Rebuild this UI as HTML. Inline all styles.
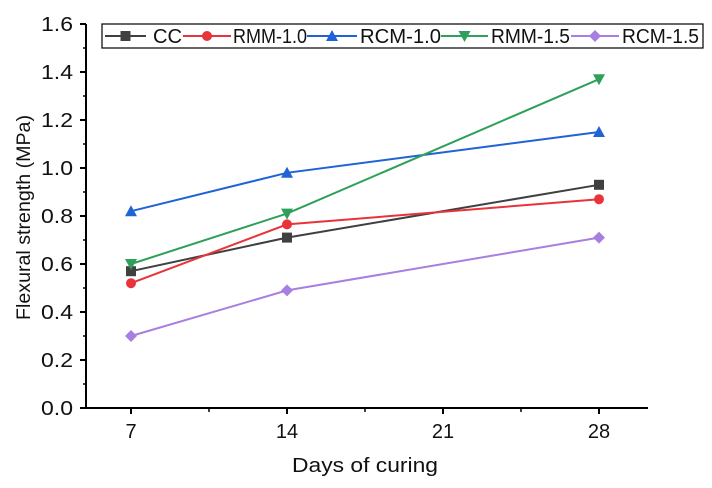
<!DOCTYPE html>
<html><head><meta charset="utf-8"><style>
body{margin:0;background:#fff;}
svg text{font-family:"Liberation Sans",Arial,sans-serif;fill:#111;}
</style></head><body>
<svg id="c" width="712" height="483" viewBox="0 0 712 483"></svg>
<script>
const days=[7,14,28];
const seriesNames=["CC","RMM-1.0","RCM-1.0","RMM-1.5","RCM-1.5"];
const ccVals=[0.57,0.71,0.93];
const rmm10Vals=[0.52,0.765,0.87];
const rcm10Vals=[0.82,0.98,1.15];
const rmm15Vals=[0.60,0.81,1.37];
const rcm15Vals=[0.30,0.49,0.71];
const yTicks=["0.0","0.2","0.4","0.6","0.8","1.0","1.2","1.4","1.6"];
const xTicks=[7,14,21,28];
const colors=["#404040","#e8333a","#1f63d6","#2ea05a","#a77fe0"];
const markers=["square","circle","tri","tridown","diamond"];
const allVals=[ccVals,rmm10Vals,rcm10Vals,rmm15Vals,rcm15Vals];
const NS="http://www.w3.org/2000/svg";
const svg=document.getElementById('c');
const X=d=>131+(d-7)*(468/21);
const Y=v=>408-v*240;
function mk(t,a,p){const e=document.createElementNS(NS,t);for(const k in a)e.setAttribute(k,a[k]);(p||svg).appendChild(e);return e;}
let ax=mk('line',{x1:86,y1:24,x2:86,y2:409,stroke:'#000','stroke-width':2});

let bx=mk('line',{x1:85,y1:408,x2:648,y2:408,stroke:'#000','stroke-width':2});

yTicks.forEach((t,i)=>{const v=parseFloat(t);const y=Y(v);
mk('line',{x1:80,y1:y,x2:86,y2:y,stroke:'#000','stroke-width':2});
if(i<yTicks.length-1)mk('line',{x1:83,y1:Y(v+0.1),x2:86,y2:Y(v+0.1),stroke:'#000','stroke-width':1.5});
const tx=mk('text',{x:73,y:y+7,'text-anchor':'end','font-size':20,textLength:32,lengthAdjust:'spacingAndGlyphs'});tx.textContent=t;
});
xTicks.forEach((d,i)=>{const x=X(d);
mk('line',{x1:x,y1:408,x2:x,y2:414,stroke:'#000','stroke-width':2});
if(i<xTicks.length-1)mk('line',{x1:X(d+3.5),y1:408,x2:X(d+3.5),y2:412,stroke:'#000','stroke-width':1.5});
const tx=mk('text',{x:x,y:438,'text-anchor':'middle','font-size':20});tx.textContent=d;
});
let xt=mk('text',{x:292,y:472,'font-size':20,textLength:146,lengthAdjust:'spacingAndGlyphs'});xt.textContent='Days of curing';

let yt=mk('text',{x:0,y:0,'font-size':19,textLength:205,lengthAdjust:'spacingAndGlyphs',transform:'translate(30,320) rotate(-90)'});yt.textContent='Flexural strength (MPa)';

function marker(type,x,y,c,p){
if(type==='square')return mk('rect',{x:x-5,y:y-5,width:10,height:10,fill:c},p);
if(type==='circle')return mk('circle',{cx:x,cy:y,r:5,fill:c},p);
if(type==='tri')return mk('polygon',{points:`${x},${y-6} ${x+6},${y+5} ${x-6},${y+5}`,fill:c},p);
if(type==='tridown')return mk('polygon',{points:`${x},${y+6} ${x+6},${y-5} ${x-6},${y-5}`,fill:c},p);
return mk('polygon',{points:`${x},${y-6} ${x+6},${y} ${x},${y+6} ${x-6},${y}`,fill:c},p);}
allVals.forEach((vals,s)=>{
const g=mk('g',{});
const pl=mk('polyline',{points:vals.map((v,i)=>X(days[i])+','+Y(v)).join(' '),fill:'none',stroke:colors[s],'stroke-width':2},g);

vals.forEach((v,i)=>{const m=marker(markers[s],X(days[i]),Y(v),colors[s],g);
});
});
const lg=mk('g',{});
mk('rect',{x:102,y:24,width:601,height:24,fill:'#fff',stroke:'#000','stroke-width':1.2},lg);
const lineX=[[105,146],[183,231],[307,357],[441,488],[571,619]];
const textX=[[153,29],[233,74],[360,81],[491,79],[622,77]];
seriesNames.forEach((n,s)=>{const [a,b]=lineX[s];
const e=mk('g',{},lg);
mk('line',{x1:a,y1:36,x2:b,y2:36,stroke:colors[s],'stroke-width':2},e);
marker(markers[s],(a+b)/2,36,colors[s],e);
const t=mk('text',{x:textX[s][0],y:43,'font-size':20,textLength:textX[s][1],lengthAdjust:'spacingAndGlyphs'},e);t.textContent=n;});
</script>
</body></html>
